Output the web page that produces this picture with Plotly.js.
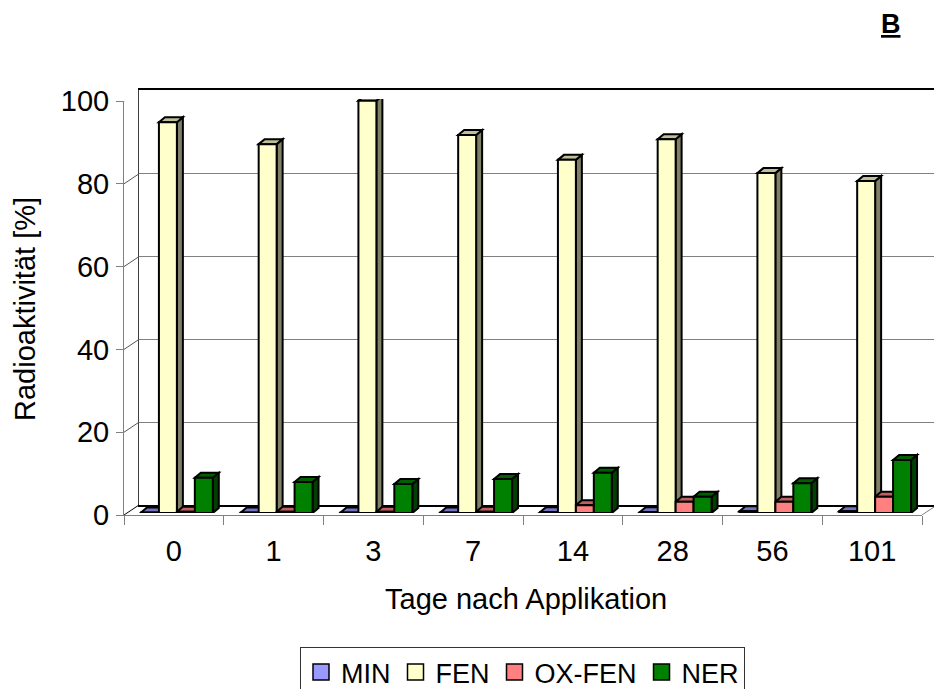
<!DOCTYPE html>
<html>
<head>
<meta charset="utf-8">
<script src="https://cdn.plot.ly/plotly-3.0.1.min.js"></script>
<style>html,body{margin:0;padding:0;background:#fff;}#chart{width:934px;height:689px;}</style>
</head>
<body>
<div id="chart"></div>
<script>
// ---- data ----
const categories = ['0', '1', '3', '7', '14', '28', '56', '101'];
const seriesNames = ['MIN', 'FEN', 'OX-FEN', 'NER'];
const minVals = [0.1, 0.1, 0.1, 0.1, 0.2, 0.2, 0.4, 0.4];
const fenVals = [94.4, 89.1, 99.6, 91.3, 85.3, 90.3, 82.1, 80.2];
const oxVals = [0.3, 0.3, 0.3, 0.3, 1.9, 2.7, 2.7, 3.9];
const nerVals = [8.5, 7.5, 7.0, 8.2, 9.7, 3.9, 7.2, 12.8];
const yTicks = [0, 20, 40, 60, 80, 100];

// ---- styling ----
const frontCol = ['#9999FF', '#FFFFCC', '#FF8080', '#008000'];
const sideCol = ['#4D4D80', '#808066', '#804040', '#004000'];
const topCol = ['#7373BF', '#BFBF99', '#BF6060', '#006000'];
const W = 934, H = 689;
const FONT = 'Arial, "Liberation Sans", sans-serif';
const FS = 29;
const fx = px => px / W;
const fy = px => (H - px) / H;

// pixel geometry of the three layers (back wall, front axes, bars)
const back = {l: 139, r: 937, b: 505, t: 90};
const front = {l: 124, r: 922, b: 515, t: 101};
const bars = {l: 127, r: 925, b: 513, t: 99};
const bargap = 0.28;
const depthX = 6, depthY = 5; // bar depth in px

const allVals = [minVals, fenVals, oxVals, nerVals];
const idx = categories.map((c, i) => i);

const traces = [];
// dummy traces so the back-wall and front axes exist
traces.push({type: 'scatter', x: [0, 1], y: [null, null], xaxis: 'x', yaxis: 'y',
  showlegend: false, hoverinfo: 'skip', mode: 'markers'});
traces.push({type: 'scatter', x: categories, y: categories.map(() => null), xaxis: 'x2', yaxis: 'y2',
  showlegend: false, hoverinfo: 'skip', mode: 'markers'});

allVals.forEach((vals, s) => {
  traces.push({
    type: 'bar', name: seriesNames[s], x: idx, y: vals, xaxis: 'x3', yaxis: 'y3',
    marker: {color: frontCol[s], line: {color: '#000', width: 2}},
    customdata: categories, textposition: 'none', showlegend: false, legendgroup: seriesNames[s],
    hovertemplate: seriesNames[s] + ' %{customdata}: %{y}<extra></extra>'
  });
});
// legend entries with larger square keys
seriesNames.forEach((n, s) => {
  traces.push({type: 'scatter', mode: 'markers', name: n, legendgroup: n, x: [null], y: [null],
    xaxis: 'x3', yaxis: 'y3', hoverinfo: 'skip',
    marker: {symbol: 'square', size: 16, color: frontCol[s], line: {color: '#000', width: 1.5}}});
});

// 3D side and top faces computed from data through bar axis scale
const pxPerX = (bars.r - bars.l) / categories.length;
const pxPerY = (bars.b - bars.t) / 100;
const ddx = depthX / pxPerX, ddy = depthY / pxPerY;
const bw = (1 - bargap) / seriesNames.length;
const shapes = [];
allVals.forEach((vals, s) => {
  vals.forEach((v, c) => {
    const xl = c - (1 - bargap) / 2 + s * bw;
    const xr = xl + bw;
    shapes.push({type: 'path', xref: 'x3', yref: 'y3', layer: 'below',
      path: `M${xr},0 L${xr + ddx},${ddy} L${xr + ddx},${v + ddy} L${xr},${v} Z`,
      fillcolor: sideCol[s], line: {color: '#000', width: 2}});
    shapes.push({type: 'path', xref: 'x3', yref: 'y3', layer: 'below',
      path: `M${xl},${v} L${xl + ddx},${v + ddy} L${xr + ddx},${v + ddy} L${xr},${v} Z`,
      fillcolor: topCol[s], line: {color: '#000', width: 2}});
  });
});
// diagonal connectors from front y ticks to back wall
yTicks.forEach(v => {
  shapes.push({type: 'line', xref: 'paper', yref: 'y2', ysizemode: 'pixel', yanchor: v,
    x0: fx(front.l), x1: fx(back.l), y0: 0, y1: front.b - back.b,
    line: {color: v === 0 ? '#000' : '#555', width: 1}});
});
// right floor edge
shapes.push({type: 'line', xref: 'paper', yref: 'y2', ysizemode: 'pixel', yanchor: 0,
  x0: fx(front.r), x1: fx(back.r), y0: 0, y1: front.b - back.b,
  line: {color: '#808080', width: 1}});

const layout = {
  width: W, height: H,
  margin: {l: 0, r: 0, t: 0, b: 0, pad: 0, autoexpand: false},
  paper_bgcolor: '#fff', plot_bgcolor: 'rgba(0,0,0,0)',
  font: {family: FONT, size: FS, color: '#000'},
  showlegend: true,
  barmode: 'group', bargap: bargap, bargroupgap: 0,
  // back wall
  xaxis: {domain: [fx(back.l), fx(back.r)], range: [0, 1], showgrid: false, zeroline: false,
    showticklabels: false, ticks: '', showline: true, mirror: true, linecolor: '#000', linewidth: 2,
    fixedrange: true},
  yaxis: {domain: [fy(back.b), fy(back.t)], range: [0, 100], tickvals: yTicks, showgrid: true,
    gridcolor: '#808080', gridwidth: 1, zeroline: false, showticklabels: false, ticks: '',
    showline: true, linecolor: '#404040', linewidth: 1, fixedrange: true},
  // front axes
  xaxis2: {domain: [fx(front.l), fx(front.r)], type: 'category', categoryorder: 'array',
    categoryarray: categories, range: [-0.5, categories.length - 0.5], anchor: 'y2',
    showgrid: false, zeroline: false, ticks: 'outside', tickson: 'boundaries', ticklen: 9,
    tickcolor: '#808080', tickwidth: 1, showline: true, linecolor: '#808080', linewidth: 1,
    tickfont: {size: FS, family: FONT}, ticklabelstandoff: 10, fixedrange: true},
  yaxis2: {domain: [fy(front.b), fy(front.t)], range: [0, 100], tickvals: yTicks, anchor: 'x2',
    showgrid: false, zeroline: false, ticks: 'outside', ticklen: 7, tickcolor: '#808080',
    showline: true, linecolor: '#808080', linewidth: 1, tickfont: {size: FS, family: FONT},
    ticklabelstandoff: 1, fixedrange: true},
  // bars
  xaxis3: {domain: [fx(bars.l), fx(bars.r)], range: [-0.5, categories.length - 0.5], anchor: 'y3',
    visible: false, fixedrange: true},
  yaxis3: {domain: [fy(bars.b), fy(bars.t)], range: [0, 100], anchor: 'x3', visible: false,
    fixedrange: true},
  legend: {orientation: 'h', x: fx(300), y: fy(647), xanchor: 'left', yanchor: 'top',
    bordercolor: '#333', borderwidth: 1, bgcolor: '#fff', font: {size: 27, family: FONT},
    itemwidth: 30, traceorder: 'normal', itemsizing: 'trace'},
  shapes: shapes,
  annotations: [
    {text: '<b><u>B</u></b>', xref: 'paper', yref: 'paper', x: fx(891), y: fy(24),
      xanchor: 'center', yanchor: 'middle', showarrow: false, font: {size: 27, family: FONT}},
    {text: 'Tage nach Applikation', xref: 'paper', yref: 'paper', x: fx(526), y: fy(599),
      xanchor: 'center', yanchor: 'middle', showarrow: false, font: {size: FS, family: FONT}},
    {text: 'Radioaktivität [%]', xref: 'paper', yref: 'paper', x: fx(25), y: fy(309),
      xanchor: 'center', yanchor: 'middle', textangle: -90, showarrow: false,
      font: {size: FS, family: FONT}}
  ]
};

Plotly.newPlot('chart', traces, layout, {displayModeBar: false, staticPlot: true});
</script>
</body>
</html>
